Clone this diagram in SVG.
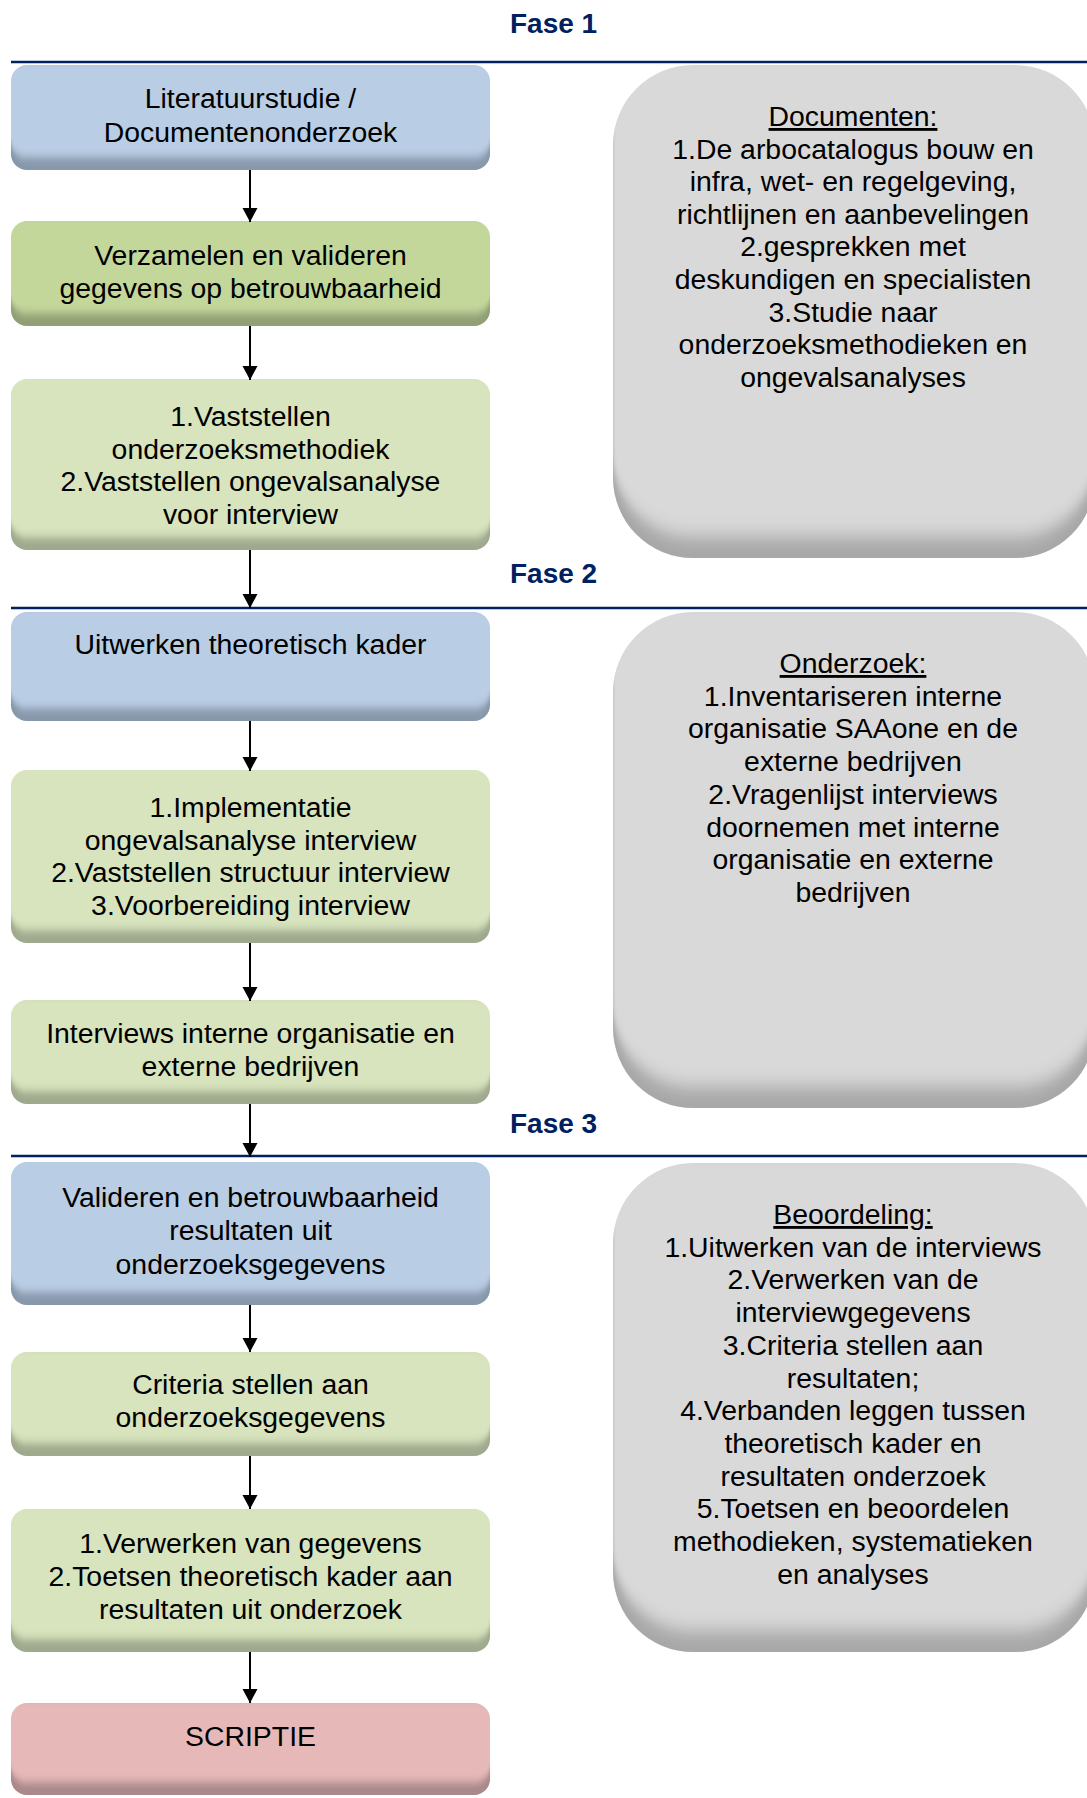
<svg xmlns="http://www.w3.org/2000/svg" width="1087" height="1798" viewBox="0 0 1087 1798">
<style>
  .t { font-family: "Liberation Sans", Arial, sans-serif; font-size: 28.4px; fill: #000; text-anchor: middle; }
  .fase { font-family: "Liberation Sans", Arial, sans-serif; font-size: 28px; font-weight: bold; fill: #002060; }
  .pl { stroke: #002060; stroke-width: 2.6; }
  .blue { fill: #b9cde5; }
  .green { fill: #c4d79b; }
  .lgreen { fill: #d7e4bd; }
  .pink { fill: #e6b9b8; }
  .grey { fill: #d9d9d9; }
  .conn line { stroke: #000; stroke-width: 2; marker-end: url(#ah); }
  .u { text-decoration: underline; }
</style>
<defs>
  <filter id="bev" x="-2%" y="-5%" width="104%" height="112%">
    <feOffset in="SourceAlpha" dy="-13" result="up"/>
    <feGaussianBlur in="up" stdDeviation="0 4" result="upb"/>
    <feComposite in="SourceAlpha" in2="upb" operator="out" result="rim"/>
    <feFlood flood-color="#1a2230" flood-opacity="0.5" result="c"/>
    <feComposite in="c" in2="rim" operator="in" result="shade"/>
    <feMerge><feMergeNode in="SourceGraphic"/><feMergeNode in="shade"/></feMerge>
  </filter>
  <filter id="bevg" x="-2%" y="-3%" width="104%" height="106%">
    <feOffset in="SourceAlpha" dy="-22" result="up"/>
    <feGaussianBlur in="up" stdDeviation="1.5 9" result="upb"/>
    <feComposite in="SourceAlpha" in2="upb" operator="out" result="rim"/>
    <feFlood flood-color="#222" flood-opacity="0.45" result="c"/>
    <feComposite in="c" in2="rim" operator="in" result="shade"/>
    <feMerge><feMergeNode in="SourceGraphic"/><feMergeNode in="shade"/></feMerge>
  </filter>
  <marker id="ah" markerUnits="userSpaceOnUse" markerWidth="15" markerHeight="16" refX="14" refY="7.5" orient="auto" viewBox="0 0 15 15">
    <path d="M0,0 L14,7.5 L0,15 Z" fill="#000"/>
  </marker>
</defs>

<g id="phases">
  <text class="fase" x="510" y="33">Fase 1</text>
  <line class="pl" x1="11" y1="62" x2="1087" y2="62"/>
  <text class="fase" x="510" y="583">Fase 2</text>
  <line class="pl" x1="11" y1="608" x2="1087" y2="608"/>
  <text class="fase" x="510" y="1133">Fase 3</text>
  <line class="pl" x1="11" y1="1156" x2="1087" y2="1156"/>
</g>

<g id="info1">
  <rect class="grey" filter="url(#bevg)" x="613" y="65" width="482" height="493" rx="80"/>
  <text class="t" x="853" y="126"><tspan class="u">Documenten:</tspan><tspan x="853" dy="32.6">1.De arbocatalogus bouw en</tspan><tspan x="853" dy="32.6">infra, wet- en regelgeving,</tspan><tspan x="853" dy="32.6">richtlijnen en aanbevelingen</tspan><tspan x="853" dy="32.6">2.gesprekken met</tspan><tspan x="853" dy="32.6">deskundigen en specialisten</tspan><tspan x="853" dy="32.6">3.Studie naar</tspan><tspan x="853" dy="32.6">onderzoeksmethodieken en</tspan><tspan x="853" dy="32.6">ongevalsanalyses</tspan></text>
</g>
<g id="info2">
  <rect class="grey" filter="url(#bevg)" x="613" y="612" width="482" height="496" rx="80"/>
  <text class="t" x="853" y="673"><tspan class="u">Onderzoek:</tspan><tspan x="853" dy="32.7">1.Inventariseren interne</tspan><tspan x="853" dy="32.7">organisatie SAAone en de</tspan><tspan x="853" dy="32.7">externe bedrijven</tspan><tspan x="853" dy="32.7">2.Vragenlijst interviews</tspan><tspan x="853" dy="32.7">doornemen met interne</tspan><tspan x="853" dy="32.7">organisatie en externe</tspan><tspan x="853" dy="32.7">bedrijven</tspan></text>
</g>
<g id="info3">
  <rect class="grey" filter="url(#bevg)" x="613" y="1163" width="482" height="489" rx="80"/>
  <text class="t" x="853" y="1224"><tspan class="u">Beoordeling:</tspan><tspan x="853" dy="32.7">1.Uitwerken van de interviews</tspan><tspan x="853" dy="32.7">2.Verwerken van de</tspan><tspan x="853" dy="32.7">interviewgegevens</tspan><tspan x="853" dy="32.7">3.Criteria stellen aan</tspan><tspan x="853" dy="32.7">resultaten;</tspan><tspan x="853" dy="32.7">4.Verbanden leggen tussen</tspan><tspan x="853" dy="32.7">theoretisch kader en</tspan><tspan x="853" dy="32.7">resultaten onderzoek</tspan><tspan x="853" dy="32.7">5.Toetsen en beoordelen</tspan><tspan x="853" dy="32.7">methodieken, systematieken</tspan><tspan x="853" dy="32.7">en analyses</tspan></text>
</g>

<g id="n1">
  <rect class="blue" filter="url(#bev)" x="11" y="65" width="479" height="105" rx="16"/>
  <text class="t" x="250.5" y="108"><tspan>Literatuurstudie /</tspan><tspan x="250.5" dy="34">Documentenonderzoek</tspan></text>
</g>
<g id="n2">
  <rect class="green" filter="url(#bev)" x="11" y="221" width="479" height="105" rx="16"/>
  <text class="t" x="250.5" y="265"><tspan>Verzamelen en valideren</tspan><tspan x="250.5" dy="33">gegevens op betrouwbaarheid</tspan></text>
</g>
<g id="n3">
  <rect class="lgreen" filter="url(#bev)" x="11" y="379" width="479" height="171" rx="16"/>
  <text class="t" x="250.5" y="426"><tspan>1.Vaststellen</tspan><tspan x="250.5" dy="32.7">onderzoeksmethodiek</tspan><tspan x="250.5" dy="32.7">2.Vaststellen ongevalsanalyse</tspan><tspan x="250.5" dy="32.7">voor interview</tspan></text>
</g>
<g id="n4">
  <rect class="blue" filter="url(#bev)" x="11" y="612" width="479" height="109" rx="16"/>
  <text class="t" x="250.5" y="654">Uitwerken theoretisch kader</text>
</g>
<g id="n5">
  <rect class="lgreen" filter="url(#bev)" x="11" y="770" width="479" height="173" rx="16"/>
  <text class="t" x="250.5" y="817"><tspan>1.Implementatie</tspan><tspan x="250.5" dy="32.7">ongevalsanalyse interview</tspan><tspan x="250.5" dy="32.7">2.Vaststellen structuur interview</tspan><tspan x="250.5" dy="32.7">3.Voorbereiding interview</tspan></text>
</g>
<g id="n6">
  <rect class="lgreen" filter="url(#bev)" x="11" y="1000" width="479" height="104" rx="16"/>
  <text class="t" x="250.5" y="1043"><tspan>Interviews interne organisatie en</tspan><tspan x="250.5" dy="32.7">externe bedrijven</tspan></text>
</g>
<g id="n7">
  <rect class="blue" filter="url(#bev)" x="11" y="1162" width="479" height="143" rx="16"/>
  <text class="t" x="250.5" y="1207"><tspan>Valideren en betrouwbaarheid</tspan><tspan x="250.5" dy="33.3">resultaten uit</tspan><tspan x="250.5" dy="33.3">onderzoeksgegevens</tspan></text>
</g>
<g id="n8">
  <rect class="lgreen" filter="url(#bev)" x="11" y="1352" width="479" height="104" rx="16"/>
  <text class="t" x="250.5" y="1394"><tspan>Criteria stellen aan</tspan><tspan x="250.5" dy="33">onderzoeksgegevens</tspan></text>
</g>
<g id="n9">
  <rect class="lgreen" filter="url(#bev)" x="11" y="1509" width="479" height="143" rx="16"/>
  <text class="t" x="250.5" y="1553"><tspan>1.Verwerken van gegevens</tspan><tspan x="250.5" dy="33">2.Toetsen theoretisch kader aan</tspan><tspan x="250.5" dy="33">resultaten uit onderzoek</tspan></text>
</g>
<g id="n10">
  <rect class="pink" filter="url(#bev)" x="11" y="1703" width="479" height="92" rx="16"/>
  <text class="t" x="250.5" y="1746">SCRIPTIE</text>
</g>

<g id="connectors" class="conn">
  <line x1="250" y1="170" x2="250" y2="222"/>
  <line x1="250" y1="326" x2="250" y2="380"/>
  <line x1="250" y1="550" x2="250" y2="608"/>
  <line x1="250" y1="721" x2="250" y2="771"/>
  <line x1="250" y1="943" x2="250" y2="1001"/>
  <line x1="250" y1="1104" x2="250" y2="1157"/>
  <line x1="250" y1="1305" x2="250" y2="1352"/>
  <line x1="250" y1="1456" x2="250" y2="1509"/>
  <line x1="250" y1="1652" x2="250" y2="1703"/>
</g>
</svg>
